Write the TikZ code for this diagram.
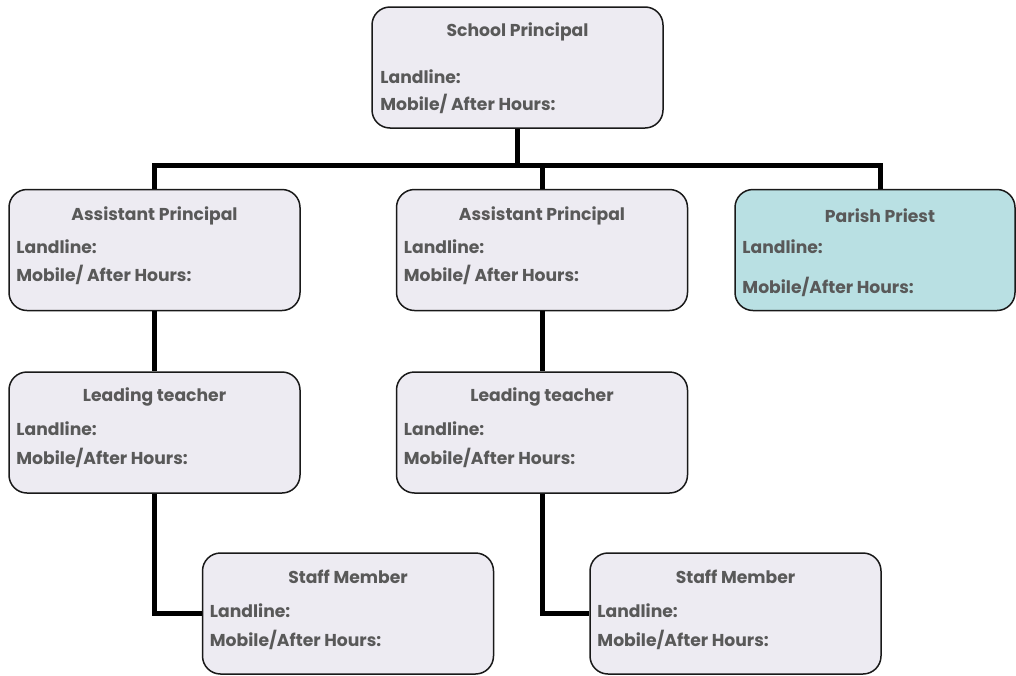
\documentclass[tikz,border=0pt]{standalone}
\usepackage{fontspec}
\setmainfont{Poppins}
\usetikzlibrary{positioning}
\definecolor{boxfill}{RGB}{237,235,242}
\definecolor{priestfill}{RGB}{185,224,227}
\definecolor{txtgrey}{RGB}{89,89,89}

\begin{document}
\begin{tikzpicture}[x=1pt, y=-1pt,
    card/.style={draw=black!90, line width=1.5pt, rounded corners=18pt, fill=boxfill,
                 minimum width=291pt, minimum height=121pt, inner sep=0pt},
    head/.style={text=txtgrey, font=\bfseries\fontsize{17.2}{20}\selectfont, inner sep=0pt},
    entry/.style={head, anchor=west},
    link/.style={line width=5pt}]
  \useasboundingbox (0,0) rectangle (1016,675);

  % boxes
  \node[card] (sp) at (517.5,67.5) {};
  \node[card] (ap1) at (154.5,250) {};
  \node[card] (ap2) at (542,250) {};
  \node[card, fill=priestfill, minimum width=280pt] (pp) at (875,250) {};
  \node[card] (lt1) at (154.5,432.5) {};
  \node[card] (lt2) at (542,432.5) {};
  \node[card] (st1) at (348,613.5) {};
  \node[card] (st2) at (735.5,613.5) {};

  % connectors
  \coordinate (busL) at (154.5,165);
  \coordinate (busR) at (880,165);
  \draw[link] (sp.south) -- (sp.south |- busL);
  \draw[link] (ap1.north) -- (busL) -- (busR) -- (busR |- pp.north);
  \draw[link] (ap2.north) -- (ap2.north |- busL);
  \draw[link] (ap1.south) -- (lt1.north);
  \draw[link] (ap2.south) -- (lt2.north);
  \draw[link] (lt1.south) |- (st1.west);
  \draw[link] (lt2.south) |- (st2.west);

  % texts
  \node[head] (sp-t) at ([yshift=-26pt]sp.north) {School Principal};
  \node[entry] (sp-l) at ([xshift=9pt, yshift=-70pt]sp.north west) {Landline:};
  \node[entry] (sp-m) at ([xshift=9pt, yshift=-98pt]sp.north west) {Mobile/ After Hours:};

  \node[head] (ap1-t) at ([yshift=-27pt]ap1.north) {Assistant Principal};
  \node[entry] (ap1-l) at ([xshift=8pt, yshift=-58pt]ap1.north west) {Landline:};
  \node[entry] (ap1-m) at ([xshift=8pt, yshift=-86pt]ap1.north west) {Mobile/ After Hours:};

  \node[head] (ap2-t) at ([yshift=-27pt]ap2.north) {Assistant Principal};
  \node[entry] (ap2-l) at ([xshift=8pt, yshift=-58pt]ap2.north west) {Landline:};
  \node[entry] (ap2-m) at ([xshift=8pt, yshift=-86pt]ap2.north west) {Mobile/ After Hours:};

  \node[head] (pp-t) at ([xshift=5pt, yshift=-27pt]pp.north) {Parish Priest};
  \node[entry] (pp-l) at ([xshift=8pt, yshift=-58pt]pp.north west) {Landline:};
  \node[entry] (pp-m) at ([xshift=8pt, yshift=-98pt]pp.north west) {Mobile/After Hours:};

  \node[head] (lt1-t) at ([yshift=-26pt]lt1.north) {Leading teacher};
  \node[entry] (lt1-l) at ([xshift=8pt, yshift=-57pt]lt1.north west) {Landline:};
  \node[entry] (lt1-m) at ([xshift=8pt, yshift=-87pt]lt1.north west) {Mobile/After Hours:};

  \node[head] (lt2-t) at ([yshift=-26pt]lt2.north) {Leading teacher};
  \node[entry] (lt2-l) at ([xshift=8pt, yshift=-57pt]lt2.north west) {Landline:};
  \node[entry] (lt2-m) at ([xshift=8pt, yshift=-87pt]lt2.north west) {Mobile/After Hours:};

  \node[head] (st1-t) at ([yshift=-25pt]st1.north) {Staff Member};
  \node[entry] (st1-l) at ([xshift=8pt, yshift=-58pt]st1.north west) {Landline:};
  \node[entry] (st1-m) at ([xshift=8pt, yshift=-88pt]st1.north west) {Mobile/After Hours:};

  \node[head] (st2-t) at ([yshift=-25pt]st2.north) {Staff Member};
  \node[entry] (st2-l) at ([xshift=8pt, yshift=-58pt]st2.north west) {Landline:};
  \node[entry] (st2-m) at ([xshift=8pt, yshift=-88pt]st2.north west) {Mobile/After Hours:};
\end{tikzpicture}
\end{document}
